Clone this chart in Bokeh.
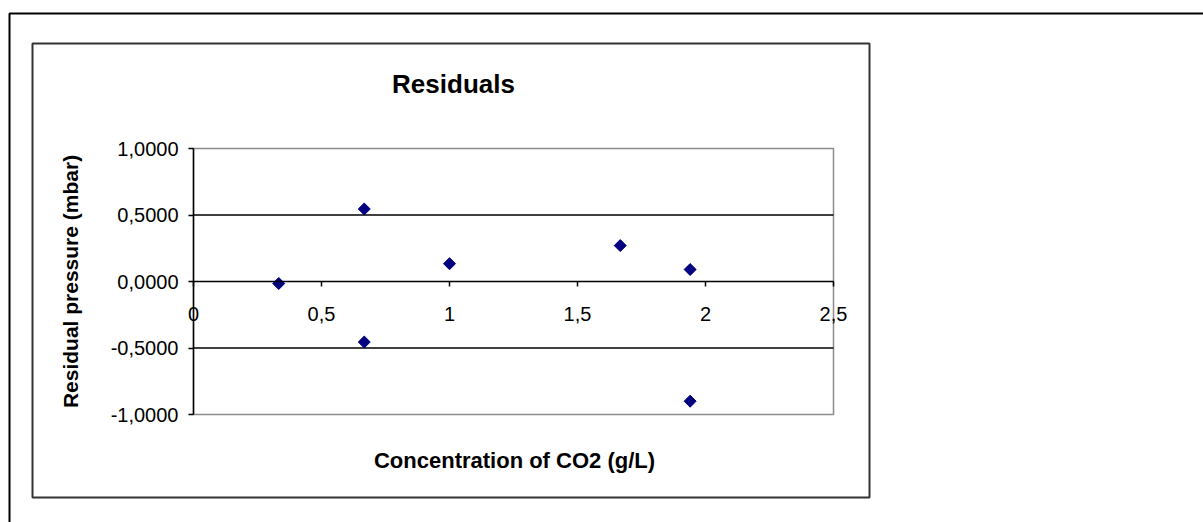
from bokeh.plotting import figure
from bokeh.models import Range1d, FixedTicker, BoxAnnotation, Label
from bokeh.embed import file_html
from bokeh.resources import INLINE
import math

# ---- data ----
concentration = [0.333, 0.667, 0.667, 1.0, 1.667, 1.94, 1.94]
residual = [-0.015, 0.545, -0.455, 0.134, 0.27, 0.09, -0.90]

x_ticks = [0, 0.5, 1, 1.5, 2, 2.5]
x_tick_labels = ["0", "0,5", "1", "1,5", "2", "2,5"]
y_ticks = [-1, -0.5, 0, 0.5, 1]
y_tick_labels = ["-1,0000", "-0,5000", "0,0000", "0,5000", "1,0000"]
y_black_lines = [-0.5, 0.5]

title_text = "Residuals"
x_title = "Concentration of CO2 (g/L)"
y_title = "Residual pressure (mbar)"

FONT = "Liberation Sans"

# ---- layout (pixels) ----
W, H = 1203, 522
PX_L, PX_R = 193, 833      # screen x of x=0 and x=2.5
PX_T, PX_B = 148, 414      # screen y of y=1 and y=-1
x0, x1 = x_ticks[0], x_ticks[-1]
y0, y1 = y_ticks[0], y_ticks[-1]
sx = (PX_R - PX_L) / (x1 - x0)
sy = (PX_B - PX_T) / (y1 - y0)
xr = Range1d(x0 - PX_L / sx, x1 + (W - PX_R) / sx)
yr = Range1d(y0 - (H - PX_B) / sy, y1 + PX_T / sy)

p = figure(width=W, height=H, output_backend="svg", toolbar_location=None,
           x_range=xr, y_range=yr, min_border=0,
           background_fill_color="white", border_fill_color="white",
           outline_line_color=None)
p.xgrid.visible = False
p.ygrid.visible = False

# plot-area border (grey) and horizontal gridlines (black)
p.quad(left=[x0], right=[x1], bottom=[y0], top=[y1], fill_color=None,
       line_color="#8c8c8c", line_width=1.5)
p.segment(x0=[x0] * len(y_black_lines), x1=[x1] * len(y_black_lines),
          y0=y_black_lines, y1=y_black_lines, line_color="black", line_width=1.5)

# x axis at y = 0
xa = p.xaxis[0]
xa.fixed_location = 0
xa.bounds = (x0, x1)
xa.ticker = FixedTicker(ticks=x_ticks)
xa.major_label_overrides = {t: l for t, l in zip(x_ticks, x_tick_labels)}
xa.axis_line_color = "black"
xa.axis_line_width = 1.5
xa.major_tick_line_color = "black"
xa.major_tick_line_width = 1.5
xa.major_tick_in = 0
xa.major_tick_out = 5
xa.minor_tick_line_color = None
xa.major_label_standoff = 20
xa.major_label_text_font = FONT
xa.major_label_text_font_size = "20px"
xa.major_label_text_color = "black"

# y axis at x = 0
ya = p.yaxis[0]
ya.fixed_location = 0
ya.bounds = (y0, y1)
ya.ticker = FixedTicker(ticks=y_ticks)
ya.major_label_overrides = {t: l for t, l in zip(y_ticks, y_tick_labels)}
ya.axis_line_color = "black"
ya.axis_line_width = 1.5
ya.major_tick_line_color = "black"
ya.major_tick_line_width = 1.5
ya.major_tick_in = 0
ya.major_tick_out = 5
ya.minor_tick_line_color = None
ya.major_label_standoff = 10
ya.major_label_text_font = FONT
ya.major_label_text_font_size = "20px"
ya.major_label_text_color = "black"
ya.axis_label = y_title
ya.axis_label_standoff = 26
ya.axis_label_text_font = FONT
ya.axis_label_text_font_size = "21px"
ya.axis_label_text_font_style = "bold"
ya.axis_label_text_color = "black"

# points
p.scatter(concentration, residual, marker="square", size=8.5, angle=math.pi / 4,
          fill_color="#000080", line_color="#000080")

# titles
p.add_layout(Label(x=453, y=83, x_units="canvas", y_units="canvas", text=title_text,
                   text_font=FONT, text_font_size="26px", text_font_style="bold",
                   text_color="black", text_align="center", text_baseline="alphabetic"))
p.add_layout(Label(x=514, y=460, x_units="canvas", y_units="canvas", text=x_title,
                   text_font=FONT, text_font_size="22px", text_font_style="bold",
                   text_color="black", text_align="center", text_baseline="alphabetic"))

# chart-area box and outer page box
p.add_layout(BoxAnnotation(left=32, right=869, top=43, bottom=497,
                           left_units="canvas", right_units="canvas",
                           top_units="canvas", bottom_units="canvas",
                           fill_color=None, fill_alpha=0, line_color="#333333",
                           line_alpha=1.0, line_width=2))
p.add_layout(BoxAnnotation(left=9, right=W + 20, top=13, bottom=H + 20,
                           left_units="canvas", right_units="canvas",
                           top_units="canvas", bottom_units="canvas",
                           fill_color=None, fill_alpha=0, line_color="black",
                           line_alpha=1.0, line_width=2))

open("out.html", "w").write(file_html(p, INLINE))
